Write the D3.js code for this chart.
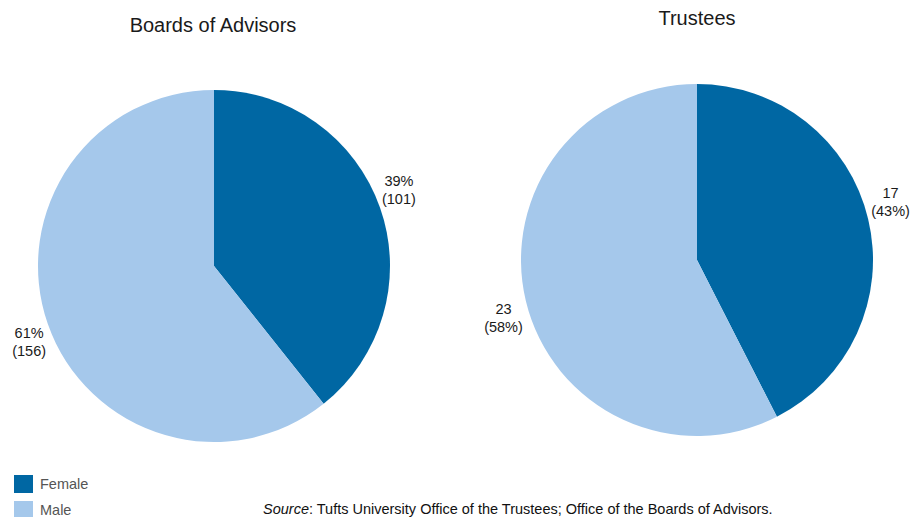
<!DOCTYPE html>
<html>
<head>
<meta charset="utf-8">
<script src="https://cdn.jsdelivr.net/npm/d3@7"></script>
<style>
  body { margin: 0; background: #fff; }
  text { font-family: "Liberation Sans", Arial, sans-serif; }
</style>
</head>
<body>
<svg id="chart" width="913" height="517"></svg>
<script>
// data
var categories = ["Female", "Male"];
var advisors = [101, 156];
var trustees = [17, 23];
var colors = ["#0067a3", "#a5c8eb"];

var svg = d3.select("#chart");

var color = d3.scaleOrdinal().domain(categories).range(colors);

function pieChart(g, values, opts) {
  var data = categories.map(function (c, i) { return {key: c, value: values[i]}; });
  var total = d3.sum(values);
  var pie = d3.pie().sort(null).value(function (d) { return d.value; });
  var arc = d3.arc().innerRadius(0).outerRadius(opts.r);
  var labelArc = d3.arc().innerRadius(opts.labelR).outerRadius(opts.labelR);

  var arcs = pie(data);

  g.selectAll("path")
    .data(arcs)
    .enter().append("path")
    .attr("d", arc)
    .attr("fill", function (d) { return color(d.data.key); });

  var lbl = g.selectAll(".lbl")
    .data(arcs)
    .enter().append("text")
    .attr("class", "lbl")
    .attr("text-anchor", "middle")
    .attr("font-size", 14.5)
    .attr("fill", "#1a1a1a")
    .attr("transform", function (d) {
      // labels sit a little counter-clockwise of the slice middle
      var c = labelArc.centroid({startAngle: d.startAngle - 0.055, endAngle: d.endAngle - 0.055});
      return "translate(" + c[0] + "," + c[1] + ")";
    });

  lbl.each(function (d) {
    var pct = Math.round(d.data.value * 100 / total) + "%";
    var lines = opts.pctFirst ? [pct, "(" + d.data.value + ")"] : [d.data.value, "(" + pct + ")"];
    var t = d3.select(this);
    t.append("tspan").attr("x", 0).attr("y", -4).text(lines[0]);
    t.append("tspan").attr("x", 0).attr("y", 14).text(lines[1]);
  });
}

// titles
svg.append("text")
  .attr("x", 213).attr("y", 32)
  .attr("text-anchor", "middle")
  .attr("font-size", 20)
  .attr("fill", "#1a1a1a")
  .text("Boards of Advisors");

svg.append("text")
  .attr("x", 697).attr("y", 25)
  .attr("text-anchor", "middle")
  .attr("font-size", 20)
  .attr("fill", "#1a1a1a")
  .text("Trustees");

pieChart(svg.append("g").attr("transform", "translate(214,266)"), advisors,
  {r: 176, labelR: 200, pctFirst: true});
pieChart(svg.append("g").attr("transform", "translate(697,260)"), trustees,
  {r: 176, labelR: 202, pctFirst: false});

// legend
var legend = svg.append("g").attr("transform", "translate(14,475)");
var items = legend.selectAll("g")
  .data(categories)
  .enter().append("g")
  .attr("transform", function (d, i) { return "translate(0," + (i * 26) + ")"; });
items.append("rect")
  .attr("width", 19).attr("height", 18)
  .attr("fill", function (d) { return color(d); });
items.append("text")
  .attr("x", 26).attr("y", 14)
  .attr("font-size", 14.5)
  .attr("fill", "#555")
  .text(function (d) { return d; });

// source
var src = svg.append("text")
  .attr("x", 263).attr("y", 514)
  .attr("font-size", 14.5)
  .attr("fill", "#111");
src.append("tspan").attr("font-style", "italic").text("Source");
src.append("tspan").text(": Tufts University Office of the Trustees; Office of the Boards of Advisors.");
</script>
</body>
</html>
